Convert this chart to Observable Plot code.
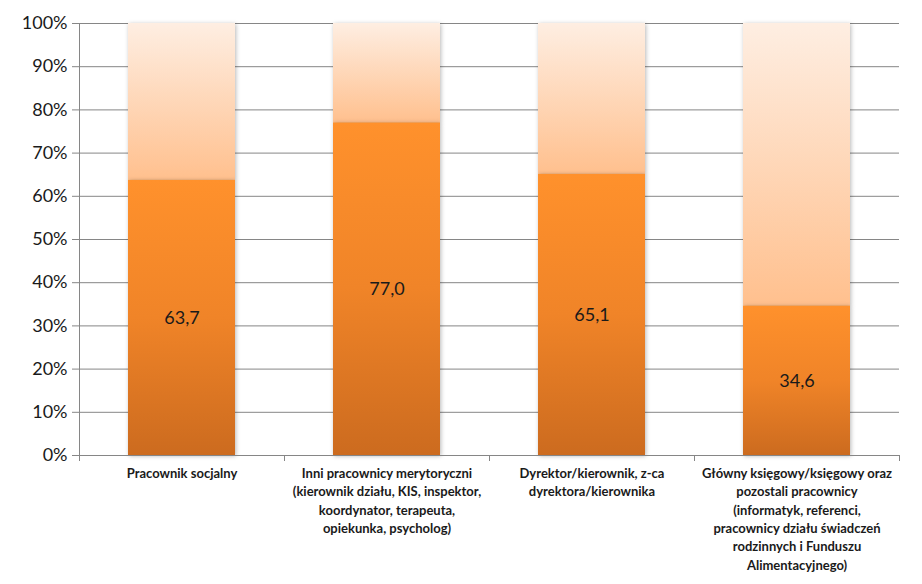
<!DOCTYPE html>
<html>
<head>
<meta charset="utf-8">
<script src="https://cdn.jsdelivr.net/npm/d3@7"></script>
<script src="https://cdn.jsdelivr.net/npm/@observablehq/plot@0.6"></script>
<style>
  html, body { margin: 0; padding: 0; background: #fff; }
  #chart { width: 922px; height: 584px; }
  svg g[aria-label="bar"] { filter: drop-shadow(1px 1px 2px rgba(0,0,0,0.28)); }
</style>
</head>
<body>
<div id="chart"></div>
<script>
const categories = [
  "Pracownik socjalny",
  "Inni pracownicy merytoryczni\n(kierownik działu, KIS, inspektor,\nkoordynator, terapeuta,\nopiekunka, psycholog)",
  "Dyrektor/kierownik, z-ca\ndyrektora/kierownika",
  "Główny księgowy/księgowy oraz\npozostali pracownicy\n(informatyk, referenci,\npracownicy działu świadczeń\nrodzinnych i Funduszu\nAlimentacyjnego)"
];
const values = [63.7, 77.0, 65.1, 34.6];
const valueLabels = ["63,7", "77,0", "65,1", "34,6"];
const yTicks = [0, 10, 20, 30, 40, 50, 60, 70, 80, 90, 100];

const lower = categories.map((c, i) => ({cat: c, y1: 0, y2: values[i]}));
const upper = categories.map((c, i) => ({cat: c, y1: values[i], y2: 100}));

const FONT = "Lato, 'Open Sans', sans-serif";
const GRAY = "#868686";

const defsMark = () => {
  const g = d3.create("svg:g");
  const defs = g.append("defs");
  const go = defs.append("linearGradient").attr("id", "gOrange")
    .attr("x1", 0).attr("y1", 0).attr("x2", 0).attr("y2", 1);
  go.append("stop").attr("offset", "0%").attr("stop-color", "#FF912C");
  go.append("stop").attr("offset", "50%").attr("stop-color", "#F08428");
  go.append("stop").attr("offset", "100%").attr("stop-color", "#CC6B1F");
  const gp = defs.append("linearGradient").attr("id", "gPeach")
    .attr("x1", 0).attr("y1", 0).attr("x2", 0).attr("y2", 1);
  gp.append("stop").attr("offset", "0%").attr("stop-color", "#FEEEE2");
  gp.append("stop").attr("offset", "100%").attr("stop-color", "#FFC08E");
  return g.node();
};

const frameLines = (index, scales, values, dims) => {
  const {width, height, marginLeft, marginRight, marginTop, marginBottom} = dims;
  const g = d3.create("svg:g").attr("stroke", GRAY).attr("fill", "none");
  const left = marginLeft, right = width - marginRight, bottom = height - marginBottom;
  g.append("line").attr("x1", left + 0.5).attr("x2", left + 0.5)
    .attr("y1", marginTop).attr("y2", bottom + 6);
  const n = categories.length;
  const step = (right - left) / n;
  for (let i = 0; i <= n; i++) {
    const x = Math.round(left + i * step) + 0.5;
    g.append("line").attr("x1", x).attr("x2", x).attr("y1", bottom).attr("y2", bottom + 6);
  }
  return g.node();
};

const chart = Plot.plot({
  width: 922,
  height: 584,
  marginLeft: 79,
  marginRight: 23,
  marginTop: 23,
  marginBottom: 129,
  style: {fontFamily: FONT, background: "#fff", color: "#1a1a1a"},
  x: {domain: categories, paddingInner: 0.48, paddingOuter: 0.24, label: null},
  y: {domain: [0, 100], label: null},
  marks: [
    defsMark,
    Plot.gridY(yTicks, {stroke: GRAY, strokeOpacity: 1}),
    Plot.barY(upper, {x: "cat", y1: "y1", y2: "y2", fill: "url(#gPeach)"}),
    Plot.barY(lower, {x: "cat", y1: "y1", y2: "y2", fill: "url(#gOrange)"}),
    Plot.text(lower, {x: "cat", y: d => d.y2 / 2, text: valueLabels, fontSize: 18, fill: "#1a1a1a"}),
    Plot.ruleY([0], {stroke: GRAY}),
    frameLines,
    Plot.axisY({ticks: yTicks, tickFormat: d => d + "%", tickSize: 7, tickPadding: 5, fontSize: 18, stroke: GRAY, fill: "#1a1a1a", label: null}),
    Plot.axisX({tickSize: 0, tickPadding: 9, fontSize: 13, fontWeight: "bold", lineHeight: 1.42, lineAnchor: "top", fill: "#1a1a1a", label: null})
  ]
});
document.getElementById("chart").appendChild(chart);
</script>
</body>
</html>
